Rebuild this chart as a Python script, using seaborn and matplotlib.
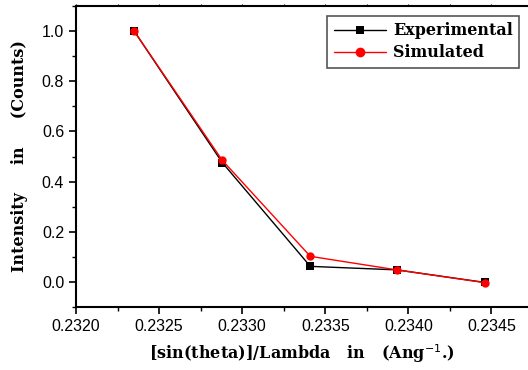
import matplotlib
matplotlib.use("Agg")
import matplotlib.pyplot as plt
import seaborn as sns
import pandas as pd
from matplotlib.ticker import MultipleLocator, FormatStrFormatter
from matplotlib.lines import Line2D

x_vals = [0.23235, 0.23288, 0.23341, 0.23393, 0.23446]
experimental = [1.0, 0.476, 0.062, 0.048, -0.002]
simulated = [1.0, 0.485, 0.102, 0.048, -0.003]
series_names = ["Experimental", "Simulated"]

df = pd.DataFrame({
    "x": x_vals * 2,
    "y": experimental + simulated,
    "series": [series_names[0]] * len(x_vals) + [series_names[1]] * len(x_vals),
})

sns.set_style("ticks")
plt.rcParams["text.color"] = "black"
plt.rcParams["axes.labelcolor"] = "black"
fig = plt.figure(figsize=(5.28, 3.70), dpi=100)
ax = fig.add_axes([76/528, 63/370, 1 - 76/528, 301/370])

sns.lineplot(data=df, x="x", y="y", hue="series", style="series",
             palette={"Experimental": "black", "Simulated": "red"},
             markers={"Experimental": "s", "Simulated": "o"},
             dashes=False, linewidth=1.0, markersize=6,
             markeredgewidth=0, ax=ax, legend=False)

ax.set_xlim(0.2320, 0.23472)
ax.set_ylim(-0.1, 1.1)
ax.xaxis.set_major_locator(MultipleLocator(0.0005))
ax.xaxis.set_minor_locator(MultipleLocator(0.00025))
ax.yaxis.set_major_locator(MultipleLocator(0.2))
ax.yaxis.set_minor_locator(MultipleLocator(0.1))
ax.xaxis.set_major_formatter(FormatStrFormatter("%.4f"))
ax.yaxis.set_major_formatter(FormatStrFormatter("%.1f"))

for s in ["left", "bottom", "top"]:
    ax.spines[s].set_linewidth(1.5)
    ax.spines[s].set_color("black")
ax.spines["right"].set_visible(False)

ax.tick_params(axis="both", which="major", direction="out", length=5, width=1.2,
               labelsize=11.5, colors="black", labelcolor="black")
ax.tick_params(axis="both", which="minor", direction="out", length=3, width=1.0, colors="black")
ax.tick_params(axis="x", which="both", top=True)
ax.xaxis.set_tick_params(which="both", top=True)
for t in ax.xaxis.get_major_ticks() + ax.xaxis.get_minor_ticks():
    t.tick2line.set_markersize(1.5)
    t.tick2line.set_color("#888888")
    t.tick2line.set_markeredgewidth(0.8)
for lbl in ax.get_xticklabels() + ax.get_yticklabels():
    lbl.set_family("Liberation Sans")

label_font = {"family": "DejaVu Serif", "fontweight": "bold", "fontsize": 11.5, "color": "black"}
ax.set_xlabel("[sin(theta)]/Lambda   in   (Ang$^{-1}$.)", labelpad=6, **label_font)
ax.set_ylabel("Intensity     in     (Counts)", labelpad=10, **label_font)

handles = [
    Line2D([], [], color="black", marker="s", markersize=6, linewidth=1.0, markeredgewidth=0),
    Line2D([], [], color="red", marker="o", markersize=7, linewidth=1.0, markeredgewidth=0),
]
leg = ax.legend(handles, series_names, loc="upper right",
                bbox_to_anchor=(519/528, 1 - 16/370), bbox_transform=fig.transFigure,
                fancybox=False, frameon=True, edgecolor="#555555", framealpha=1,
                handlelength=3.3, borderpad=0.4, borderaxespad=0,
                labelspacing=0.3, handletextpad=0.4,
                prop={"family": "DejaVu Serif", "weight": "bold", "size": 11.5})
leg.get_frame().set_linewidth(1.2)
for txt in leg.get_texts():
    txt.set_color("black")

fig.savefig("out.png", dpi=100)
